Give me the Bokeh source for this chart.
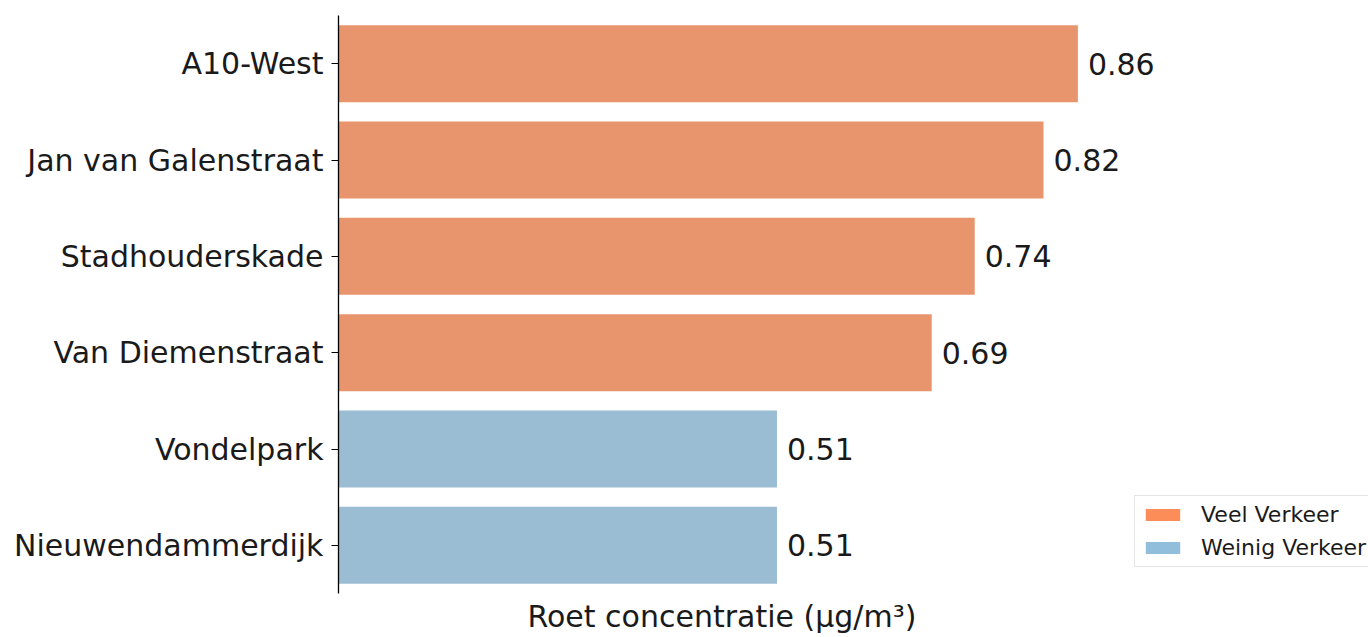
from bokeh.plotting import figure
from bokeh.models import ColumnDataSource, FactorRange, Range1d, Legend, LegendItem, Title
from bokeh.core.properties import value
from bokeh.embed import file_html
from bokeh.resources import INLINE

locations = ["A10-West", "Jan van Galenstraat", "Stadhouderskade", "Van Diemenstraat", "Vondelpark", "Nieuwendammerdijk"]
concentrations = [0.86, 0.82, 0.74, 0.69, 0.51, 0.51]
traffic = ["Veel Verkeer", "Veel Verkeer", "Veel Verkeer", "Veel Verkeer", "Weinig Verkeer", "Weinig Verkeer"]
value_labels = ["0.86", "0.82", "0.74", "0.69", "0.51", "0.51"]
legend_labels = ["Veel Verkeer", "Weinig Verkeer"]

bar_colors = {"Veel Verkeer": "#E8956E", "Weinig Verkeer": "#9BBDD3"}
legend_colors = {"Veel Verkeer": "#FC8D59", "Weinig Verkeer": "#91BFDB"}

FONT = "DejaVu Sans"
TXT = "#1a1a1a"

src = ColumnDataSource(dict(
    loc=locations,
    val=concentrations,
    lab=value_labels,
    color=[bar_colors[t] for t in traffic],
))

p = figure(
    width=1368, height=637,
    y_range=FactorRange(*list(reversed(locations)), range_padding=0),
    x_range=Range1d(0, 1.198),
    output_backend="svg", toolbar_location=None,
    min_border_left=338, min_border_right=0, min_border_top=15, min_border_bottom=0,
)
p.outline_line_color = None
p.grid.visible = False

p.hbar(y="loc", right="val", left=0, height=0.8, source=src, fill_color="color", line_color=None)
p.text(x="val", y="loc", text="lab", source=src, x_offset=10, text_baseline="middle",
       text_align="left", text_font=value(FONT), text_font_size="30px", text_color=TXT)

# legend swatches (zero-length bars, only used for their colour in the legend)
items = []
for name in legend_labels:
    r = p.hbar(y=[locations[0]], right=[0], left=0, height=0.8,
               fill_color=legend_colors[name], line_color=None)
    items.append(LegendItem(label=name, renderers=[r]))

legend = Legend(items=items, location=(796, 26), margin=0, padding=6,
                glyph_width=43, glyph_height=15, label_height=22, spacing=8,
                label_standoff=17, label_text_font=FONT, label_text_font_size="22px",
                label_text_color=TXT,
                border_line_color="#cccccc", border_line_width=1,
                background_fill_color="white", background_fill_alpha=0.8)
p.add_layout(legend, "center")

# y axis
p.yaxis.axis_line_color = "black"
p.yaxis.axis_line_width = 1.3
p.yaxis.major_tick_out = 7
p.yaxis.major_tick_in = 0
p.yaxis.major_tick_line_color = "black"
p.yaxis.major_label_standoff = 8
p.yaxis.major_label_text_font = FONT
p.yaxis.major_label_text_font_size = "30px"
p.yaxis.major_label_text_color = TXT

# x axis hidden; its label drawn as a title below, centred on the original axes width
p.xaxis.visible = False
xtitle = Title(text="Roet concentratie (µg/m³)", align="left", offset=189, standoff=7,
               text_font=FONT, text_font_size="30px", text_font_style="normal", text_color=TXT)
p.add_layout(xtitle, "below")

open("out.html", "w").write(file_html(p, INLINE))
